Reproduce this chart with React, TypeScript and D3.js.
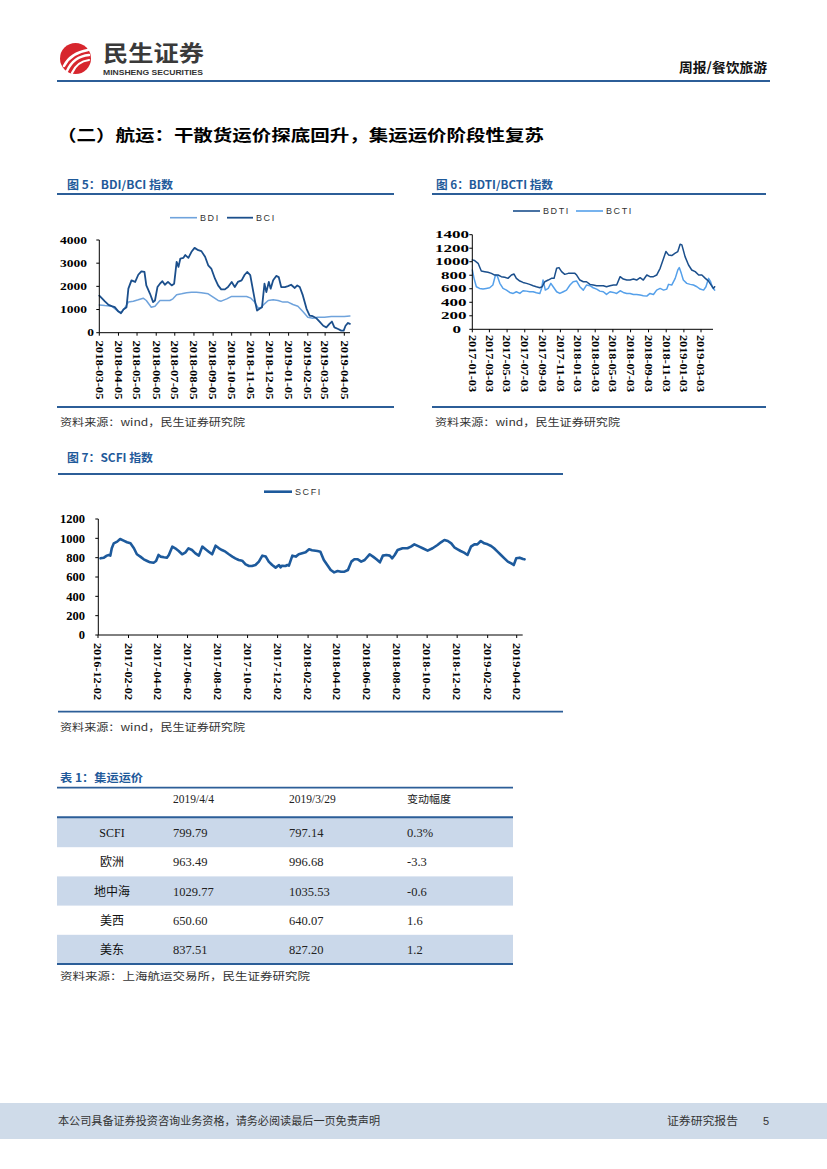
import React from 'react';
import * as d3 from 'd3';

type Pt = [string, number];

// ---------- Figure 5: BDI / BCI ----------
const bciData: Pt[] = [
  ["2018-03-05",1600],["2018-03-09",1490],["2018-03-14",1350],["2018-03-20",1200],["2018-03-25",1145],["2018-03-30",1100],
  ["2018-04-05",913],["2018-04-09",840],["2018-04-13",1000],["2018-04-18",1100],["2018-04-21",1900],["2018-04-26",2260],
  ["2018-05-02",2190],["2018-05-07",2500],["2018-05-12",2650],["2018-05-17",2620],["2018-05-20",2040],["2018-05-26",1680],
  ["2018-05-31",1320],["2018-06-03",1390],["2018-06-07",1970],["2018-06-11",2115],["2018-06-15",2220],["2018-06-19",2070],
  ["2018-06-24",2190],["2018-06-30",2040],["2018-07-04",2115],["2018-07-08",3060],["2018-07-11",2840],["2018-07-14",3200],
  ["2018-07-19",3230],["2018-07-22",3350],["2018-07-27",3230],["2018-08-01",3490],["2018-08-06",3660],["2018-08-12",3560],
  ["2018-08-17",3520],["2018-08-23",3275],["2018-08-28",2910],["2018-09-02",2770],["2018-09-08",2330],["2018-09-13",2040],
  ["2018-09-18",1870],["2018-09-24",1870],["2018-09-29",1970],["2018-10-05",2190],["2018-10-10",1970],["2018-10-15",2190],
  ["2018-10-21",2260],["2018-10-26",2500],["2018-10-30",2620],["2018-11-04",2480],["2018-11-09",1750],["2018-11-12",1320],
  ["2018-11-15",955],["2018-11-19",1030],["2018-11-23",1100],["2018-11-27",2115],["2018-11-30",1750],["2018-12-04",2190],
  ["2018-12-07",1900],["2018-12-11",2260],["2018-12-16",2450],["2018-12-20",2400],["2018-12-24",1970],["2018-12-30",1970],
  ["2019-01-04",2010],["2019-01-09",2070],["2019-01-15",1930],["2019-01-19",2040],["2019-01-23",1970],["2019-01-28",1610],
  ["2019-02-03",1030],["2019-02-08",740],["2019-02-13",710],["2019-02-19",620],["2019-02-24",480],["2019-03-02",300],
  ["2019-03-07",230],["2019-03-12",380],["2019-03-16",480],["2019-03-20",230],["2019-03-26",160],["2019-03-31",90],
  ["2019-04-04",90],["2019-04-07",300],["2019-04-11",420],["2019-04-14",380]
];
const bdiData: Pt[] = [
  ["2018-03-05",1200],["2018-03-14",1170],["2018-03-25",1145],["2018-04-05",913],["2018-04-10",885],["2018-04-15",1060],
  ["2018-04-21",1320],["2018-04-29",1360],["2018-05-07",1420],["2018-05-15",1490],["2018-05-20",1390],["2018-05-28",1100],
  ["2018-06-03",1145],["2018-06-11",1390],["2018-06-19",1390],["2018-06-27",1390],["2018-07-02",1460],["2018-07-08",1640],
  ["2018-07-16",1680],["2018-07-24",1725],["2018-08-01",1750],["2018-08-09",1750],["2018-08-17",1725],["2018-08-28",1680],
  ["2018-09-05",1535],["2018-09-13",1390],["2018-09-18",1360],["2018-09-27",1460],["2018-10-05",1565],["2018-10-13",1565],
  ["2018-10-21",1565],["2018-10-29",1565],["2018-11-05",1490],["2018-11-11",1320],["2018-11-17",1060],["2018-11-22",1100],
  ["2018-11-27",1245],["2018-12-03",1390],["2018-12-11",1420],["2018-12-19",1390],["2018-12-27",1320],["2019-01-04",1320],
  ["2019-01-12",1215],["2019-01-20",1145],["2019-01-28",913],["2019-02-05",665],["2019-02-13",620],["2019-02-21",665],
  ["2019-03-04",665],["2019-03-15",695],["2019-03-26",695],["2019-04-05",695],["2019-04-14",725]
];
const fig5XTicks = ["2018-03-05","2018-04-05","2018-05-05","2018-06-05","2018-07-05","2018-08-05","2018-09-05",
  "2018-10-05","2018-11-05","2018-12-05","2019-01-05","2019-02-05","2019-03-05","2019-04-05"];
const fig5YTicks = [0, 1000, 2000, 3000, 4000];

// ---------- Figure 6: BDTI / BCTI ----------
const bdtiData: Pt[] = [
  ["2017-01-03",1027],["2017-01-11",1017],["2017-01-23",977],["2017-02-03",863],["2017-02-15",853],["2017-02-26",843],
  ["2017-03-10",828],["2017-03-21",803],["2017-04-02",803],["2017-04-13",779],["2017-04-25",769],["2017-05-06",754],
  ["2017-05-18",803],["2017-05-27",818],["2017-06-04",754],["2017-06-16",714],["2017-06-27",694],["2017-07-09",680],
  ["2017-07-20",665],["2017-08-01",645],["2017-08-12",630],["2017-08-24",615],["2017-09-01",630],["2017-09-10",704],
  ["2017-09-22",729],["2017-10-03",754],["2017-10-12",754],["2017-10-21",903],["2017-10-29",913],["2017-11-07",853],
  ["2017-11-18",813],["2017-11-30",828],["2017-12-11",828],["2017-12-23",828],["2017-12-29",803],["2018-01-09",729],
  ["2018-01-21",704],["2018-02-01",704],["2018-02-13",665],["2018-02-24",655],["2018-03-08",645],["2018-03-19",645],
  ["2018-03-31",645],["2018-04-11",630],["2018-04-23",645],["2018-05-05",655],["2018-05-16",655],["2018-05-28",779],
  ["2018-06-08",744],["2018-06-20",729],["2018-07-01",729],["2018-07-13",744],["2018-07-24",729],["2018-08-05",764],
  ["2018-08-16",729],["2018-08-28",803],["2018-09-08",779],["2018-09-20",779],["2018-10-01",803],["2018-10-13",903],
  ["2018-10-25",1052],["2018-11-02",1151],["2018-11-11",1101],["2018-11-22",1091],["2018-12-04",1126],["2018-12-13",1151],
  ["2018-12-21",1260],["2018-12-27",1250],["2019-01-07",1076],["2019-01-19",952],["2019-01-30",878],["2019-02-11",853],
  ["2019-02-23",803],["2019-03-06",803],["2019-03-18",754],["2019-03-29",714],["2019-04-07",655],["2019-04-15",605],
  ["2019-04-19",630]
];
const bctiData: Pt[] = [
  ["2017-01-03",878],["2017-01-09",754],["2017-01-17",630],["2017-01-28",605],["2017-02-09",595],["2017-02-20",605],
  ["2017-03-04",615],["2017-03-15",655],["2017-03-24",803],["2017-03-30",793],["2017-04-08",680],["2017-04-19",605],
  ["2017-05-01",580],["2017-05-12",546],["2017-05-24",531],["2017-06-04",556],["2017-06-16",531],["2017-06-27",570],
  ["2017-07-09",565],["2017-07-20",556],["2017-08-01",556],["2017-08-12",541],["2017-08-24",531],["2017-08-30",605],
  ["2017-09-04",729],["2017-09-12",580],["2017-09-22",605],["2017-10-01",680],["2017-10-09",630],["2017-10-21",556],
  ["2017-11-01",531],["2017-11-13",556],["2017-11-24",580],["2017-12-06",655],["2017-12-17",704],["2017-12-29",714],
  ["2018-01-09",630],["2018-01-21",580],["2018-02-01",655],["2018-02-13",645],["2018-02-24",615],["2018-03-08",595],
  ["2018-03-19",565],["2018-03-31",556],["2018-04-11",516],["2018-04-23",556],["2018-05-05",546],["2018-05-16",531],
  ["2018-05-28",570],["2018-06-08",546],["2018-06-20",531],["2018-07-01",531],["2018-07-13",516],["2018-07-24",516],
  ["2018-08-05",506],["2018-08-16",496],["2018-08-28",491],["2018-09-08",531],["2018-09-20",516],["2018-10-01",580],
  ["2018-10-13",605],["2018-10-25",580],["2018-11-05",595],["2018-11-11",665],["2018-11-22",655],["2018-12-04",754],
  ["2018-12-13",878],["2018-12-18",913],["2018-12-25",828],["2019-01-01",729],["2019-01-13",680],["2019-01-25",665],
  ["2019-02-05",655],["2019-02-17",630],["2019-02-28",595],["2019-03-12",580],["2019-03-20",630],["2019-03-29",754],
  ["2019-04-05",704],["2019-04-12",615],["2019-04-19",580]
];
const fig6XTicks = ["2017-01-03","2017-03-03","2017-05-03","2017-07-03","2017-09-03","2017-11-03","2018-01-03",
  "2018-03-03","2018-05-03","2018-07-03","2018-09-03","2018-11-03","2019-01-03","2019-03-03"];
const fig6YTicks = [0, 200, 400, 600, 800, 1000, 1200, 1400];

// ---------- Figure 7: SCFI ----------
const scfiData: Pt[] = [
  ["2016-12-07",793],["2016-12-14",800],["2016-12-20",821],["2016-12-24",828],["2016-12-27",821],["2016-12-30",897],
  ["2017-01-03",948],["2017-01-10",966],["2017-01-16",993],["2017-01-23",976],["2017-01-30",959],["2017-02-06",948],
  ["2017-02-13",897],["2017-02-19",835],["2017-02-26",811],["2017-03-05",783],["2017-03-12",766],["2017-03-18",752],
  ["2017-03-25",748],["2017-03-30",766],["2017-04-04",828],["2017-04-08",811],["2017-04-15",804],["2017-04-21",800],
  ["2017-04-25",828],["2017-05-02",914],["2017-05-08",897],["2017-05-15",869],["2017-05-22",835],["2017-05-29",855],
  ["2017-06-04",897],["2017-06-11",879],["2017-06-18",845],["2017-06-25",821],["2017-07-02",914],["2017-07-08",890],
  ["2017-07-15",862],["2017-07-22",835],["2017-07-29",924],["2017-08-05",897],["2017-08-11",879],["2017-08-18",862],
  ["2017-08-25",835],["2017-09-01",811],["2017-09-07",793],["2017-09-14",776],["2017-09-21",769],["2017-09-28",731],
  ["2017-10-05",714],["2017-10-11",714],["2017-10-18",724],["2017-10-25",759],["2017-11-01",821],["2017-11-08",811],
  ["2017-11-14",759],["2017-11-21",724],["2017-11-28",697],["2017-12-05",724],["2017-12-08",700],["2017-12-11",717],
  ["2017-12-18",714],["2017-12-22",724],["2017-12-25",717],["2018-01-01",821],["2018-01-08",811],["2018-01-14",835],
  ["2018-01-21",845],["2018-01-28",855],["2018-02-04",886],["2018-02-10",876],["2018-02-21",869],["2018-02-27",862],
  ["2018-03-06",776],["2018-03-13",724],["2018-03-20",672],["2018-03-27",648],["2018-04-03",662],["2018-04-10",655],
  ["2018-04-17",655],["2018-04-24",672],["2018-05-01",759],["2018-05-07",783],["2018-05-14",783],["2018-05-21",759],
  ["2018-05-28",776],["2018-06-07",835],["2018-06-14",811],["2018-06-21",783],["2018-06-28",752],["2018-07-04",821],
  ["2018-07-11",828],["2018-07-18",821],["2018-07-23",793],["2018-07-28",828],["2018-08-03",879],["2018-08-13",897],
  ["2018-08-23",897],["2018-08-30",914],["2018-09-06",938],["2018-09-16",914],["2018-09-23",897],["2018-10-03",872],
  ["2018-10-13",897],["2018-10-23",931],["2018-10-30",959],["2018-11-06",983],["2018-11-13",972],["2018-11-20",948],
  ["2018-11-27",903],["2018-12-03",886],["2018-12-09",869],["2018-12-16",852],["2018-12-23",828],["2018-12-30",914],
  ["2019-01-06",938],["2019-01-12",938],["2019-01-19",972],["2019-01-26",948],["2019-02-02",938],["2019-02-09",921],
  ["2019-02-15",897],["2019-02-22",862],["2019-03-01",828],["2019-03-08",793],["2019-03-15",759],["2019-03-22",741],
  ["2019-03-27",724],["2019-04-01",793],["2019-04-08",800],["2019-04-15",786],["2019-04-18",783]
];
const fig7XTicks = ["2016-12-02","2017-02-02","2017-04-02","2017-06-02","2017-08-02","2017-10-02","2017-12-02",
  "2018-02-02","2018-04-02","2018-06-02","2018-08-02","2018-10-02","2018-12-02","2019-02-02","2019-04-02"];
const fig7YTicks = [0, 200, 400, 600, 800, 1000, 1200];

// ---------- Table 1 ----------
const tableHeader = ["2019/4/4", "2019/3/29", "变动幅度"];
const tableRows = ["SCFI", "欧洲", "地中海", "美西", "美东"];
const tableCol1 = ["799.79", "963.49", "1029.77", "650.60", "837.51"];
const tableCol2 = ["797.14", "996.68", "1035.53", "640.07", "827.20"];
const tableCol3 = ["0.3%", "-3.3", "-0.6", "1.6", "1.2"];

// ---------- styling ----------
const SERIF = '"Liberation Serif","Times New Roman",serif';
const SANS = '"Liberation Sans",Arial,sans-serif';
const CJK = '"Noto Sans CJK SC","Noto Sans",sans-serif';
const RULE = '#2c5e98';
const TITLE_BLUE = '#1f5a9a';
const DARK = '#1b4f8c';
const LIGHT5 = '#6fa3dc';
const LIGHT6 = '#55a0ea';
const SCFI_C = '#1d5a9c';
const SHADE = '#cad8ea';

const parse = d3.timeParse('%Y-%m-%d') as (s: string) => Date;

interface Series { data: Pt[]; color: string; width: number; }
interface ChartProps {
  axisX: number; axisY: number; yTop: number; yMax: number; yTicks: number[];
  d0: string; d1: string; px0: number; px1: number; axisRight: number;
  xTicks: string[]; xLabTop: number; xLabLen: number; xLabFs: number;
  yLabR0: number; yLabW0: number; yLabW1: number; yLabFs: number;
  series: Series[];
}

function LineChart(p: ChartProps) {
  const x = d3.scaleTime().domain([parse(p.d0), parse(p.d1)]).range([p.px0, p.px1]);
  const y = d3.scaleLinear().domain([0, p.yMax]).range([p.axisY, p.yTop]);
  const line = d3.line<Pt>().x(d => x(parse(d[0]))).y(d => y(d[1])).curve(d3.curveLinear);
  return (
    <g>
      {p.series.map((s, i) => (
        <path key={i} d={line(s.data) || ''} fill="none" stroke={s.color} strokeWidth={s.width}
          strokeLinejoin="round" strokeLinecap="round" />
      ))}
      <line x1={p.axisX} x2={p.axisX} y1={y(p.yMax)} y2={p.axisY} stroke="#000" strokeWidth={1} />
      <line x1={p.axisX} x2={p.axisRight} y1={p.axisY} y2={p.axisY} stroke="#000" strokeWidth={1} />
      {p.yTicks.map(t => {
        const s = String(t);
        const n = s.length;
        return (
          <g key={t}>
            <line x1={p.axisX - 3} x2={p.axisX} y1={y(t)} y2={y(t)} stroke="#000" strokeWidth={1} />
            <text x={p.yLabR0 - n * p.yLabW0} y={y(t)} dy="0.35em" fontFamily={SERIF} fontWeight="bold"
              fontSize={p.yLabFs} textLength={n * p.yLabW1} lengthAdjust="spacingAndGlyphs" fill="#000">{s}</text>
          </g>
        );
      })}
      {p.xTicks.map(t => {
        const tx = x(parse(t));
        return (
          <g key={t}>
            <line x1={tx} x2={tx} y1={p.axisY} y2={p.axisY + 3} stroke="#000" strokeWidth={1} />
            <text transform={`translate(${tx},${p.xLabTop}) rotate(90)`} dy="0.35em" fontFamily={SERIF}
              fontWeight="bold" fontSize={p.xLabFs} textLength={p.xLabLen} lengthAdjust="spacingAndGlyphs"
              fill="#000">{t}</text>
          </g>
        );
      })}
    </g>
  );
}

function Legend({ items, y }: { items: { x: number; len: number; label: string; color: string; w: number }[]; y: number }) {
  return (
    <g>
      {items.map(it => (
        <g key={it.label}>
          <line x1={it.x} x2={it.x + it.len} y1={y} y2={y} stroke={it.color} strokeWidth={it.w} />
          <text x={it.x + it.len + 3} y={y} dy="0.35em" fontFamily={SANS} fontSize={9} letterSpacing={1.6}
            fill="#333">{it.label}</text>
        </g>
      ))}
    </g>
  );
}

function Title({ x, y, text, len }: { x: number; y: number; text: string; len: number }) {
  return <text x={x} y={y} fontFamily={CJK} fontWeight="bold" fontSize={11} fill={TITLE_BLUE}
    textLength={len} lengthAdjust="spacingAndGlyphs">{text}</text>;
}

function Source({ x, y, text, len }: { x: number; y: number; text: string; len: number }) {
  return <text x={x} y={y} fontFamily={CJK} fontSize={10} fill="#333" textLength={len}
    lengthAdjust="spacingAndGlyphs">{text}</text>;
}

function Rule({ x1, x2, y, w = 1.8 }: { x1: number; x2: number; y: number; w?: number }) {
  return <line x1={x1} x2={x2} y1={y} y2={y} stroke={RULE} strokeWidth={w} />;
}

export default function App() {
  const rowTop = 818;
  const rowH = 29.2;
  return (
    <svg width={827} height={1169} viewBox="0 0 827 1169"
      style={{ position: 'absolute', left: 0, top: 0, background: '#fff' }}>
      <rect x={0} y={0} width={827} height={1169} fill="#fff" />
      {/* header */}
      <circle cx={75.5} cy={58.5} r={15.5} fill="#d7262e" />
      <path d="M64,66 C68,58 76,52 88,50" stroke="#fff" strokeWidth={2.6} fill="none" strokeLinecap="round" />
      <path d="M67,71 C71,62 79,56 89,55" stroke="#fff" strokeWidth={2.4} fill="none" strokeLinecap="round" />
      <path d="M72,73 C75,66 81,61 89,60" stroke="#fff" strokeWidth={2.2} fill="none" strokeLinecap="round" />
      <text x={103} y={60.5} fontFamily={CJK} fontWeight="bold" fontSize={22} fill="#3a3a3a" textLength={101}
        lengthAdjust="spacingAndGlyphs">民生证券</text>
      <text x={103} y={75} fontFamily={SANS} fontWeight="bold" fontSize={8} fill="#333" textLength={100}
        lengthAdjust="spacingAndGlyphs">MINSHENG SECURITIES</text>
      <text x={679} y={72} fontFamily={CJK} fontWeight="bold" fontSize={13} fill="#111" textLength={88}
        lengthAdjust="spacingAndGlyphs">周报/餐饮旅游</text>
      <line x1={57} x2={770} y1={81} y2={81} stroke={RULE} strokeWidth={2} />

      {/* section title */}
      <text x={57} y={141} fontFamily={CJK} fontWeight="bold" fontSize={16} fill="#000" textLength={487}
        lengthAdjust="spacingAndGlyphs">（二）航运：干散货运价探底回升，集运运价阶段性复苏</text>

      {/* Figure 5 */}
      <Title x={67} y={189} text="图 5：BDI/BCI 指数" len={106} />
      <Rule x1={57} x2={394} y={194} />
      <Legend y={217.7} items={[
        { x: 170, len: 27, label: 'BDI', color: LIGHT5, w: 1.6 },
        { x: 227, len: 26, label: 'BCI', color: DARK, w: 1.8 },
      ]} />
      <LineChart axisX={99.3} axisY={332.7} yTop={240} yMax={4000} yTicks={fig5YTicks}
        d0="2018-03-05" d1="2019-04-05" px0={99.3} px1={344.3} axisRight={350}
        xTicks={fig5XTicks} xLabTop={340.5} xLabLen={59} xLabFs={10.5}
        yLabR0={96.3} yLabW0={9.1} yLabW1={6.75} yLabFs={10.5}
        series={[{ data: bdiData, color: LIGHT5, width: 1.5 }, { data: bciData, color: DARK, width: 1.8 }]} />
      <Rule x1={57} x2={394} y={407} />
      <Source x={60} y={426} text="资料来源：wind，民生证券研究院" len={185} />

      {/* Figure 6 */}
      <Title x={436} y={189} text="图 6：BDTI/BCTI 指数" len={117} />
      <Rule x1={432} x2={766} y={194} />
      <Legend y={211} items={[
        { x: 513, len: 27, label: 'BDTI', color: DARK, w: 1.6 },
        { x: 576, len: 27, label: 'BCTI', color: LIGHT6, w: 1.6 },
      ]} />
      <LineChart axisX={472.3} axisY={329.3} yTop={234.7} yMax={1400} yTicks={fig6YTicks}
        d0="2017-01-03" d1="2019-03-03" px0={472.3} px1={701} axisRight={713}
        xTicks={fig6XTicks} xLabTop={335} xLabLen={57} xLabFs={10.5}
        yLabR0={458.3} yLabW0={5.8} yLabW1={8.5} yLabFs={10}
        series={[{ data: bctiData, color: LIGHT6, width: 1.5 }, { data: bdtiData, color: DARK, width: 1.5 }]} />
      <Rule x1={432} x2={766} y={407} />
      <Source x={435} y={426} text="资料来源：wind，民生证券研究院" len={185} />

      {/* Figure 7 */}
      <Title x={67} y={462} text="图 7：SCFI 指数" len={86} />
      <Rule x1={58} x2={563} y={474} />
      <Legend y={491.7} items={[{ x: 264, len: 28, label: 'SCFI', color: SCFI_C, w: 2.6 }]} />
      <LineChart axisX={98.3} axisY={635} yTop={519} yMax={1200} yTicks={fig7YTicks}
        d0="2016-12-02" d1="2019-04-02" px0={98} px1={516.7} axisRight={522.7}
        xTicks={fig7XTicks} xLabTop={643} xLabLen={57} xLabFs={11}
        yLabR0={85} yLabW0={6.25} yLabW1={6.25} yLabFs={12}
        series={[{ data: scfiData, color: SCFI_C, width: 2.6 }]} />
      <Rule x1={58} x2={563} y={711.7} />
      <Source x={60} y={731} text="资料来源：wind，民生证券研究院" len={185} />

      {/* Table 1 */}
      <text x={60} y={782} fontFamily={CJK} fontWeight="bold" fontSize={11} fill={TITLE_BLUE}
        textLength={83} lengthAdjust="spacingAndGlyphs">表 1：集运运价</text>
      <Rule x1={57} x2={513} y={787.7} />
      {tableRows.map((r, i) => i % 2 === 0 ? (
        <rect key={'s' + i} x={57} y={rowTop + i * rowH} width={456} height={rowH} fill={SHADE} />
      ) : null)}
      <text x={173} y={803} fontFamily={SERIF} fontSize={11.5} fill="#222">{tableHeader[0]}</text>
      <text x={289} y={803} fontFamily={SERIF} fontSize={11.5} fill="#222">{tableHeader[1]}</text>
      <text x={407} y={803} fontFamily={CJK} fontSize={10.5} fill="#222" textLength={44}
        lengthAdjust="spacingAndGlyphs">{tableHeader[2]}</text>
      <Rule x1={57} x2={513} y={817.3} w={2} />
      {tableRows.map((r, i) => {
        const by = rowTop + i * rowH + rowH / 2 + 4.5;
        return (
          <g key={r}>
            <text x={112} y={by} textAnchor="middle" fontFamily={r === 'SCFI' ? SERIF : CJK}
              fontSize={12} fill="#111">{r}</text>
            <text x={173} y={by} fontFamily={SERIF} fontSize={12.5} fill="#222">{tableCol1[i]}</text>
            <text x={289} y={by} fontFamily={SERIF} fontSize={12.5} fill="#222">{tableCol2[i]}</text>
            <text x={407} y={by} fontFamily={SERIF} fontSize={12.5} fill="#222">{tableCol3[i]}</text>
          </g>
        );
      })}
      <Rule x1={57} x2={513} y={964} w={2} />
      <Source x={60} y={980} text="资料来源：上海航运交易所，民生证券研究院" len={250} />

      {/* footer */}
      <rect x={0} y={1103} width={827} height={36} fill="#cfdbe9" />
      <text x={58} y={1125} fontFamily={CJK} fontSize={11} fill="#333" textLength={322}
        lengthAdjust="spacingAndGlyphs">本公司具备证券投资咨询业务资格，请务必阅读最后一页免责声明</text>
      <text x={667} y={1125} fontFamily={CJK} fontSize={11} fill="#333" textLength={71}
        lengthAdjust="spacingAndGlyphs">证券研究报告</text>
      <text x={763} y={1125} fontFamily={SANS} fontSize={11} fill="#333">5</text>
    </svg>
  );
}
